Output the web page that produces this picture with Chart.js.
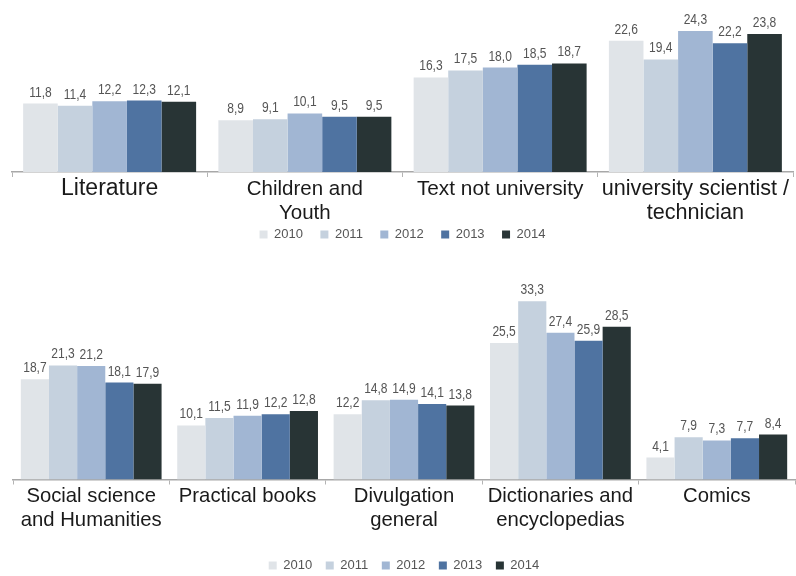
<!DOCTYPE html>
<html>
<head>
<meta charset="utf-8">
<title>Book categories 2010–2014</title>
<script src="https://cdn.jsdelivr.net/npm/chart.js@4/dist/chart.umd.min.js"></script>
<style>
  html, body { margin: 0; padding: 0; background: #ffffff; overflow: hidden; }
  body { width: 796px; height: 576px; position: relative; }
  .panel { position: absolute; left: 0; width: 796px; }
  #topPanel { top: 0; height: 251px; }
  #bottomPanel { top: 250px; height: 332px; }
</style>
</head>
<body>
<div class="panel" id="topPanel"><canvas id="topChart"></canvas></div>
<div class="panel" id="bottomPanel"><canvas id="bottomChart"></canvas></div>
<script>
// Series labels
const years = ['2010', '2011', '2012', '2013', '2014'];

// Upper panel categories and values per year
const topCategories = ['Literature', ['Children and', 'Youth'], 'Text not university', ['university scientist /', 'technician']];
const top2010 = [11.8, 8.9, 16.3, 22.6];
const top2011 = [11.4, 9.1, 17.5, 19.4];
const top2012 = [12.2, 10.1, 18.0, 24.3];
const top2013 = [12.3, 9.5, 18.5, 22.2];
const top2014 = [12.1, 9.5, 18.7, 23.8];

// Lower panel categories and values per year
const bottomCategories = [['Social science', 'and Humanities'], 'Practical books', ['Divulgation', 'general'], ['Dictionaries and', 'encyclopedias'], 'Comics'];
const bottom2010 = [18.7, 10.1, 12.2, 25.5, 4.1];
const bottom2011 = [21.3, 11.5, 14.8, 33.3, 7.9];
const bottom2012 = [21.2, 11.9, 14.9, 27.4, 7.3];
const bottom2013 = [18.1, 12.2, 14.1, 25.9, 7.7];
const bottom2014 = [17.9, 12.8, 13.8, 28.5, 8.4];

const yearColors = ['#e0e4e8', '#c5d1de', '#a1b6d3', '#4f73a1', '#283435'];

// Category label font sizes, per panel
const topLabelSizes = [23, 20.5, 20.8, 21.6];
const bottomLabelSizes = [20.3, 20.3, 20.3, 20.3, 20.3];

// Writes each bar's value above it, with a decimal comma, in a narrowed face
const valueLabels = {
  id: 'valueLabels',
  afterDatasetsDraw(chart) {
    const ctx = chart.ctx;
    chart.data.datasets.forEach((ds, di) => {
      const meta = chart.getDatasetMeta(di);
      meta.data.forEach((bar, i) => {
        const text = ds.data[i].toFixed(1).replace('.', ',');
        ctx.save();
        ctx.font = '14px "Liberation Sans", Arial, sans-serif';
        ctx.fillStyle = '#555555';
        ctx.textAlign = 'center';
        ctx.textBaseline = 'alphabetic';
        ctx.translate(bar.x, bar.y - 7);
        ctx.scale(0.86, 1);
        ctx.fillText(text, 0, 0);
        ctx.restore();
      });
    });
  }
};

function makeDatasets(seriesList, pct) {
  return seriesList.map((values, i) => ({
    label: years[i],
    data: values,
    backgroundColor: yearColors[i],
    borderWidth: 0,
    categoryPercentage: pct,
    barPercentage: 1
  }));
}

function legendLabels(extraSpaces) {
  return {
    boxWidth: 8,
    boxHeight: 8,
    color: '#555555',
    font: { family: '"Liberation Sans", Arial, sans-serif', size: 13 },
    generateLabels(chart) {
      const items = Chart.defaults.plugins.legend.labels.generateLabels(chart);
      items.forEach((it, i) => {
        if (i < items.length - 1) it.text = it.text + ' '.repeat(extraSpaces);
        it.lineWidth = 0;
      });
      return items;
    }
  };
}

function makeChart(canvasId, categories, seriesList, opts) {
  return new Chart(document.getElementById(canvasId), {
    type: 'bar',
    data: { labels: categories, datasets: makeDatasets(seriesList, opts.pct) },
    options: {
      responsive: true,
      maintainAspectRatio: false,
      animation: false,
      layout: { padding: { top: opts.padTop, left: opts.padLeft, right: opts.padRight, bottom: 0 } },
      plugins: {
        legend: {
          display: true,
          position: 'bottom',
          labels: Object.assign(legendLabels(opts.legendSpaces), { padding: opts.legendPad })
        },
        tooltip: { enabled: false }
      },
      scales: {
        x: {
          offset: true,
          border: { display: true, color: '#a8a8a8', width: 1.5 },
          grid: {
            offset: true,
            display: true,
            drawOnChartArea: false,
            drawTicks: true,
            tickLength: 5,
            color: '#b4b4b4',
            lineWidth: 1
          },
          ticks: {
            autoSkip: false,
            maxRotation: 0,
            minRotation: 0,
            padding: 0,
            color: '#1a1a1a',
            font: (c) => ({
              family: '"Liberation Sans", Arial, sans-serif',
              size: opts.labelSizes[c.index] || 20,
              lineHeight: '24px'
            })
          },
          afterFit(scale) { scale.height += opts.axisExtra; }
        },
        y: {
          display: false,
          min: 0,
          max: opts.yMax
        }
      }
    },
    plugins: [valueLabels]
  });
}

makeChart('topChart', topCategories, [top2010, top2011, top2012, top2013, top2014], {
  pct: 0.886, padTop: 9.5, padLeft: 12, padRight: 3, yMax: 28,
  legendPad: 3, legendSpaces: 4, axisExtra: 0, labelSizes: topLabelSizes
});

makeChart('bottomChart', bottomCategories, [bottom2010, bottom2011, bottom2012, bottom2013, bottom2014], {
  pct: 0.9, padTop: 36.7, padLeft: 13, padRight: 1, yMax: 36,
  legendPad: 10, legendSpaces: 1, axisExtra: 16.5, labelSizes: bottomLabelSizes
});
</script>
</body>
</html>
